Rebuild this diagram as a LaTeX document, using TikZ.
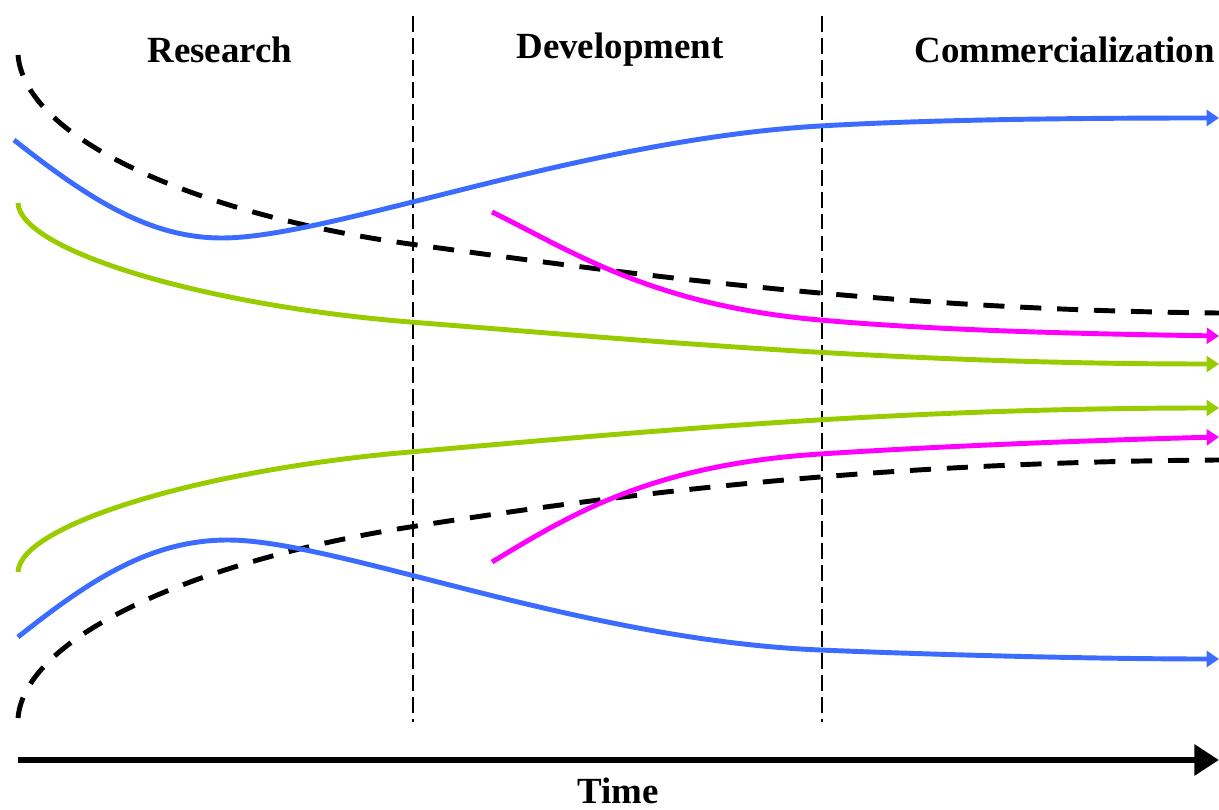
\documentclass[tikz,border=0pt]{standalone}
\usepackage{fontspec}
\setmainfont{Liberation Serif}
\usetikzlibrary{arrows.meta}

\begin{document}
\begin{tikzpicture}[x=0.02cm,y=-0.02cm,
  curve/.style={line width=2.8pt,line cap=butt},
  tipped/.style={curve,-{Triangle[length=7pt,width=9pt]}},
  envelope/.style={curve,black,dash pattern=on 12pt off 9pt},
  phase/.style={font=\fontsize{21}{25}\selectfont\bfseries},
  split/.style={black,line width=0.8pt,dash pattern=on 9pt off 3.5pt}]
\useasboundingbox (0,0) rectangle (1219,810);
\definecolor{lineblue}{RGB}{59,107,255}
\definecolor{linegreen}{RGB}{153,204,0}
\definecolor{linepink}{RGB}{255,0,255}

% phase borders
\draw[split] (413,16) -- (413,722);
\draw[split] (822,16) -- (822,722);

% phase names
\node[phase] (research) at (220,50) {Research};
\node[phase] (development) at (620,50) {Development};
\node[phase,anchor=west,inner sep=0pt] (commercial) at (914,50) {Commercialization};

% dashed envelope
\draw[envelope] (18,55) .. controls (25,140) and (200,215) .. (410,244)
  .. controls (650,277) and (900,310) .. (1219,313);
\draw[envelope] (18,718) .. controls (25,635) and (200,560) .. (410,527)
  .. controls (650,489) and (900,462) .. (1219,460);

% blue
\draw[tipped,lineblue] (14,140) .. controls (90,200) and (150,238) .. (222,238)
  .. controls (330,238) and (580,140) .. (820,126)
  .. controls (940,119) and (1100,118) .. (1219,118);
\draw[tipped,lineblue] (18,637) .. controls (90,580) and (150,540) .. (228,540)
  .. controls (336,540) and (580,640) .. (820,650)
  .. controls (940,655) and (1100,659) .. (1219,659);

% green
\draw[tipped,linegreen] (18,203) .. controls (20,250) and (200,305) .. (410,322)
  .. controls (650,341) and (900,364) .. (1219,364);
\draw[tipped,linegreen] (18,572) .. controls (20,525) and (200,470) .. (410,452)
  .. controls (650,431) and (900,408) .. (1219,408);

% magenta
\draw[tipped,linepink] (492,212) .. controls (570,250) and (650,305) .. (820,320)
  .. controls (950,331.5) and (1100,334) .. (1219,336);
\draw[tipped,linepink] (492,562) .. controls (570,515) and (650,465) .. (820,454)
  .. controls (950,445.6) and (1100,440) .. (1219,437);

% time axis
\coordinate (t0) at (18,760);
\coordinate (t1) at (1219,760);
\draw[line width=3.5pt,-{Triangle[length=14pt,width=17pt]}] (t0) -- (t1);
\node[phase] (time) at (618,791) {Time};
\end{tikzpicture}
\end{document}
